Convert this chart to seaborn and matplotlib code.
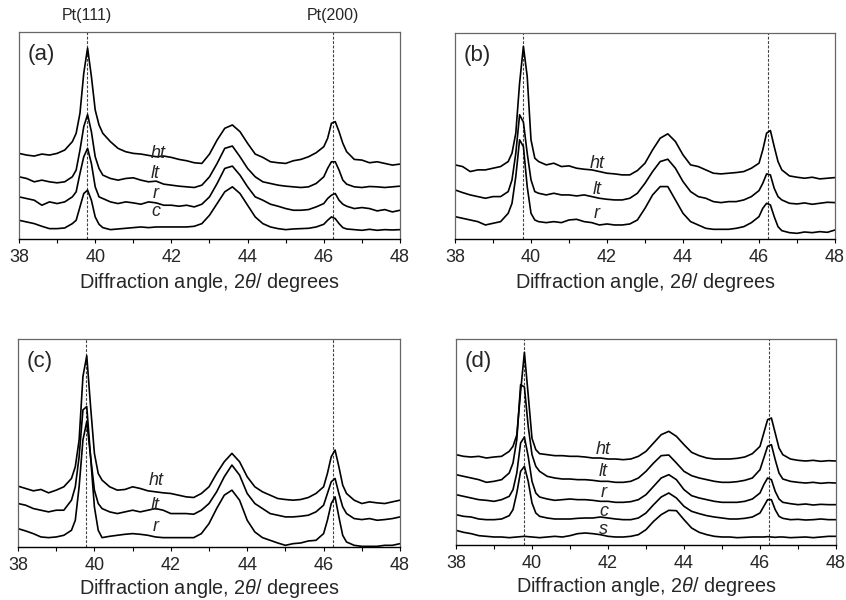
import numpy as np
import pandas as pd
import matplotlib
matplotlib.use('Agg')
import matplotlib.pyplot as plt
import matplotlib.transforms as mtransforms
import seaborn as sns

# 2theta grid (degrees) shared by every pattern
angle = [38.0, 38.2, 38.4, 38.6, 38.8, 39.0, 39.2, 39.4,
         39.5, 39.6, 39.7, 39.8, 39.9, 40.0, 40.1, 40.2,
         40.4, 40.6, 40.8, 41.0, 41.2, 41.4, 41.6, 41.8, 42.0,
         42.2, 42.4, 42.6, 42.8, 43.0, 43.2, 43.4, 43.6, 43.8, 44.0,
         44.2, 44.4, 44.6, 44.8, 45.0, 45.2, 45.4, 45.6, 45.8, 46.0,
         46.1, 46.2, 46.3, 46.4, 46.5,
         46.6, 46.8, 47.0, 47.2, 47.4, 47.6, 47.8, 48.0]

# intensities (a.u., stacked)
a_ht = [256, 251, 248, 254, 251, 256, 266, 291,
        316, 376, 496, 571, 486, 386, 341, 316,
        291, 271, 261, 256, 254, 250, 246, 248, 244,
        238, 234, 228, 226, 254, 296, 331, 341, 321, 286,
        254, 244, 231, 228, 226, 234, 238, 246, 258, 276,
        301, 346, 351, 321, 286,
        261, 238, 236, 228, 231, 226, 221, 224]
a_lt = [186, 181, 171, 176, 171, 168, 171, 186,
        206, 266, 336, 372, 321, 246, 211, 191,
        181, 176, 181, 183, 176, 171, 173, 164, 161,
        158, 156, 154, 161, 186, 226, 271, 278, 246, 211,
        186, 171, 166, 161, 158, 156, 154, 156, 166, 186,
        211, 231, 231, 206, 176,
        164, 156, 154, 157, 156, 154, 156, 158]
a_r = [126, 121, 116, 101, 111, 106, 111, 126,
       141, 196, 246, 271, 226, 156, 126, 121,
       111, 106, 111, 108, 104, 111, 108, 101, 101,
       98, 101, 96, 104, 126, 166, 211, 218, 191, 156,
       126, 116, 104, 98, 91, 86, 86, 88, 96, 106,
       121, 131, 136, 116, 104,
       98, 91, 94, 91, 84, 88, 81, 86]
a_c = [56, 51, 46, 38, 31, 31, 33, 46,
       56, 96, 136, 146, 116, 66, 44, 34,
       28, 30, 32, 34, 36, 34, 36, 36, 36,
       36, 36, 38, 46, 71, 106, 141, 156, 136, 101,
       66, 46, 36, 31, 28, 30, 31, 32, 36, 44,
       56, 66, 61, 46, 34,
       30, 28, 26, 29, 26, 28, 27, 28]

b_ht = [222, 217, 202, 207, 207, 212, 217, 232,
        257, 317, 467, 577, 487, 297, 242, 232,
        222, 227, 217, 219, 212, 209, 207, 202, 197,
        195, 192, 192, 205, 227, 267, 302, 315, 292, 252,
        222, 217, 207, 197, 195, 197, 199, 202, 212, 227,
        267, 317, 325, 277, 232,
        207, 189, 185, 182, 185, 180, 182, 184]
b_lt = [147, 139, 132, 127, 122, 127, 127, 142,
        177, 257, 372, 350, 257, 177, 142, 137,
        132, 137, 132, 132, 129, 132, 127, 122, 119,
        117, 117, 122, 137, 167, 202, 232, 239, 212, 172,
        142, 127, 122, 112, 109, 112, 112, 117, 127, 145,
        167, 195, 192, 152, 127,
        117, 107, 105, 108, 104, 107, 110, 109]
b_r = [67, 62, 57, 52, 42, 47, 52, 77,
       107, 187, 297, 277, 157, 77, 57, 52,
       49, 52, 49, 57, 59, 52, 49, 42, 45,
       42, 42, 45, 57, 92, 132, 157, 157, 117, 77,
       52, 42, 32, 29, 29, 29, 32, 37, 49, 67,
       92, 107, 102, 67, 37,
       25, 19, 17, 21, 19, 22, 20, 27]

c_ht = [182, 175, 168, 172, 162, 170, 180, 205,
        240, 320, 510, 572, 420, 280, 220, 200,
        180, 170, 172, 180, 175, 168, 165, 162, 160,
        155, 150, 148, 160, 180, 220, 255, 280, 255, 210,
        180, 165, 155, 145, 142, 140, 142, 148, 160, 180,
        220, 270, 290, 240, 185,
        160, 140, 130, 135, 132, 130, 135, 140]
c_lt = [130, 125, 115, 110, 105, 110, 110, 140,
        180, 270, 410, 420, 270, 170, 130, 115,
        105, 100, 105, 110, 105, 110, 115, 110, 100,
        100, 100, 98, 110, 130, 165, 210, 245, 215, 160,
        130, 115, 100, 95, 90, 90, 92, 95, 105, 125,
        160, 195, 205, 160, 120,
        100, 85, 82, 85, 80, 82, 85, 90]
c_r = [55, 48, 40, 30, 28, 30, 35, 50,
       80, 180, 320, 375, 270, 120, 50, 28,
       32, 35, 38, 40, 38, 35, 30, 28, 28,
       28, 28, 28, 40, 70, 115, 155, 170, 140, 80,
       45, 28, 20, 12, 5, 10, 12, 18, 20, 40,
       80, 130, 150, 90, 35,
       15, 5, 2, 2, 2, 5, 5, 10]

d_ht = [271, 266, 264, 266, 261, 264, 266, 281,
        296, 330, 460, 578, 450, 320, 286, 274,
        271, 268, 268, 266, 266, 264, 261, 261, 258,
        258, 256, 258, 266, 281, 306, 331, 341, 326, 301,
        278, 268, 261, 258, 258, 258, 260, 264, 274, 296,
        336, 376, 381, 336, 291,
        271, 258, 254, 252, 254, 251, 253, 252]
d_lt = [211, 206, 201, 196, 188, 191, 196, 216,
        246, 316, 481, 474, 356, 271, 236, 221,
        206, 201, 198, 198, 196, 196, 194, 191, 191,
        188, 188, 191, 201, 221, 246, 268, 270, 246, 221,
        208, 201, 196, 191, 188, 188, 190, 194, 201, 226,
        261, 296, 301, 256, 216,
        198, 191, 188, 186, 188, 185, 187, 186]
d_r = [151, 146, 141, 136, 134, 131, 136, 146,
       166, 216, 306, 324, 266, 191, 156, 144,
       138, 134, 136, 138, 136, 136, 134, 131, 131,
       128, 128, 130, 136, 151, 176, 201, 211, 196, 166,
       148, 141, 136, 131, 128, 128, 128, 131, 138, 156,
       181, 201, 196, 161, 138,
       128, 124, 121, 123, 120, 122, 121, 121]
d_c = [91, 86, 84, 78, 76, 76, 78, 88,
       106, 156, 221, 236, 191, 126, 96, 86,
       81, 78, 78, 78, 80, 81, 81, 84, 81,
       78, 76, 76, 81, 96, 121, 144, 156, 141, 116,
       101, 94, 88, 84, 81, 78, 78, 80, 84, 96,
       116, 136, 136, 106, 86,
       80, 76, 77, 75, 76, 78, 76, 76]
d_s = [44, 38, 34, 28, 26, 24, 24, 22,
       23, 24, 25, 26, 25, 24, 23, 22,
       24, 26, 24, 28, 34, 36, 34, 31, 26,
       24, 24, 26, 31, 46, 71, 91, 104, 103, 76,
       51, 38, 31, 26, 24, 24, 22, 23, 24, 24,
       24, 25, 24, 23, 24,
       24, 22, 23, 24, 22, 24, 26, 26]

sample_names = ['ht', 'lt', 'r', 'c', 's']

# panel: letter, curves, label positions (x, y) for each curve, y top
panels = [
    ('(a)', [a_ht, a_lt, a_r, a_c], [(41.66, 256), (41.57, 195), (41.59, 136), (41.59, 83)], 619),
    ('(b)', [b_ht, b_lt, b_r], [(41.75, 227), (41.75, 147), (41.73, 77)], 617),
    ('(c)', [c_ht, c_lt, c_r], [(41.62, 200), (41.58, 125), (41.60, 60)], 622),
    ('(d)', [d_ht, d_lt, d_r, d_c, d_s], [(41.88, 288), (41.88, 222), (41.88, 158), (41.88, 101), (41.88, 46)], 618),
]

# axes rectangles in figure fractions
rects = [
    [19 / 846, 1 - 239 / 600, 381 / 846, 207 / 600],
    [455 / 846, 1 - 239 / 600, 380 / 846, 206 / 600],
    [18 / 846, 1 - 547 / 600, 382 / 846, 208 / 600],
    [456 / 846, 1 - 545 / 600, 380 / 846, 206 / 600],
]

pt111 = 39.79
pt200 = 46.24

sns.set_theme(style='white')
plt.rcParams['font.family'] = ['Liberation Sans', 'DejaVu Sans']
plt.rcParams['mathtext.fontset'] = 'custom'
plt.rcParams['mathtext.rm'] = 'Liberation Sans'
plt.rcParams['mathtext.it'] = 'Liberation Sans:italic'

fig = plt.figure(figsize=(8.46, 6.0), dpi=100)

for i, ((letter, curves, label_pos, ytop), rect) in enumerate(zip(panels, rects)):
    ax = fig.add_axes(rect)
    for name, vals, (lx, ly) in zip(sample_names, curves, label_pos):
        assert len(vals) == len(angle), (letter, name, len(vals))
        df = pd.DataFrame({'angle': angle, 'intensity': vals})
        sns.lineplot(data=df, x='angle', y='intensity', ax=ax, color='black',
                     linewidth=1.2, estimator=None, sort=False)
        ax.text(lx, ly, name, style='italic', fontsize=13, ha='center', va='center')

    for xv in (pt111, pt200):
        ax.axvline(xv, color='0.25', linewidth=0.8, linestyle=(0, (2.5, 1.5)), zorder=0)

    ax.set_xlim(38, 48)
    ax.set_ylim(0, ytop)
    ax.set_xticks(np.arange(38, 49, 2))
    ax.set_xticks(np.arange(39, 48, 2), minor=True)
    ax.set_yticks([])
    ax.set_ylabel('')
    ax.set_xlabel(r'Diffraction angle, 2$\theta$/ degrees', fontsize=14.3,
                  labelpad=4 if i < 2 else 2)
    ax.tick_params(axis='x', which='both', direction='out', length=3, width=0.8,
                   color='black', labelsize=13, pad=4, bottom=True)
    for side in ('top', 'right', 'left'):
        ax.spines[side].set_color('0.4')
        ax.spines[side].set_linewidth(0.9)
    ax.spines['bottom'].set_color('black')
    ax.spines['bottom'].set_linewidth(1.0)
    ax.text(0.058, 0.893, letter, transform=ax.transAxes, fontsize=16,
            ha='center', va='center')

    if letter == '(a)':
        trans = mtransforms.blended_transform_factory(ax.transData, ax.transAxes)
        ax.text(pt111, 1.082, 'Pt(111)', transform=trans, fontsize=11.5, ha='center', va='center')
        ax.text(pt200, 1.082, 'Pt(200)', transform=trans, fontsize=11.5, ha='center', va='center')

fig.savefig('out.png', dpi=100, facecolor='white')
